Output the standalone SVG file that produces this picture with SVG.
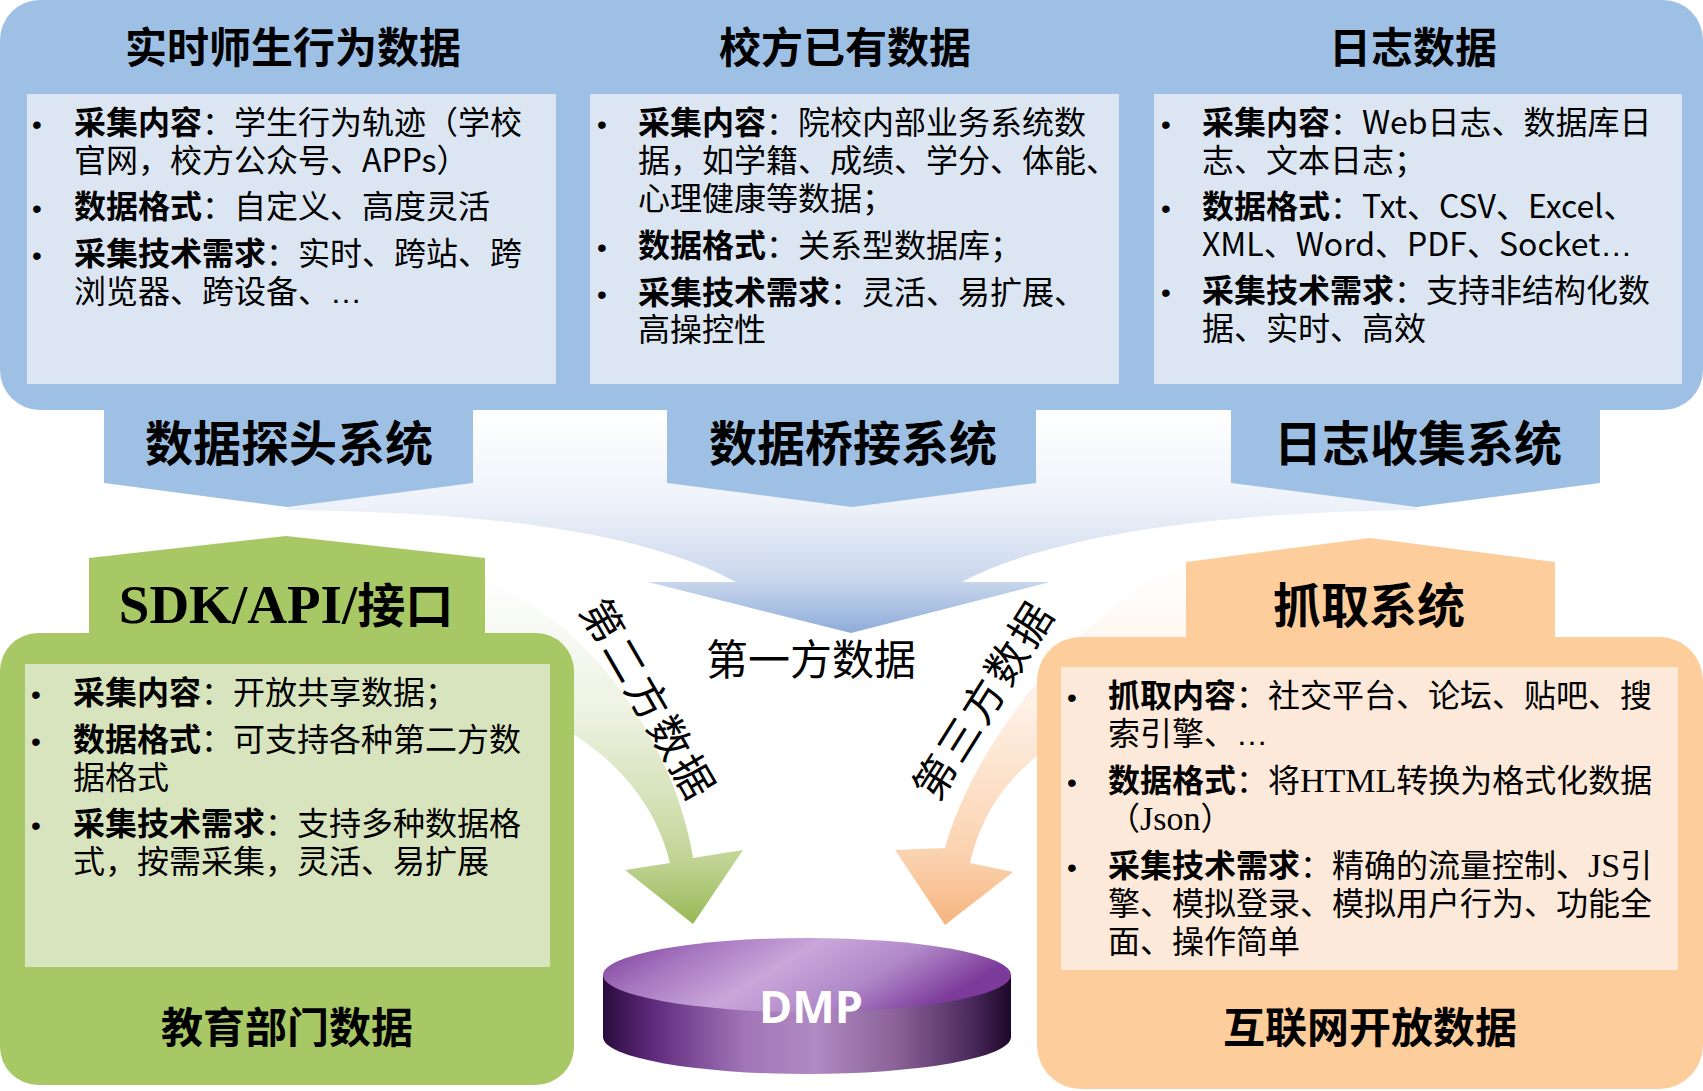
<svg xmlns="http://www.w3.org/2000/svg" width="1703" height="1091" viewBox="0 0 1703 1091">
<defs>
<style>
.title{font-family:"Noto Sans CJK SC","Noto Sans",sans-serif;font-weight:700;font-size:42px;fill:#000;text-anchor:middle}
.sys{font-family:"Noto Sans CJK SC","Noto Sans",sans-serif;font-weight:700;font-size:48px;fill:#000;text-anchor:middle}
.body{font-family:"Noto Sans CJK SC","Noto Sans",sans-serif;font-size:32px;fill:#000}
.b{font-weight:700}
.dot{font-family:"Liberation Sans",sans-serif;font-size:28px;fill:#000}
.serif{font-family:"Liberation Serif","Noto Sans CJK SC",serif}
.lat{font-family:"Liberation Sans",sans-serif}
.flow{font-family:"Noto Sans CJK SC","Noto Sans",sans-serif;font-size:42px;fill:#000;text-anchor:middle}
.blue{fill:#9fc0e5}
.bluepanel{fill:#dce6f2}
.green{fill:#a8c866}
.greenpanel{fill:#d8e4bd}
.orange{fill:#fdcd9c}
.orangepanel{fill:#fde9da}
</style>
<linearGradient id="gFunnel" gradientUnits="userSpaceOnUse" x1="0" y1="410" x2="0" y2="633">
<stop offset="0" stop-color="#ffffff"/>
<stop offset="0.44" stop-color="#edf1f9"/>
<stop offset="0.77" stop-color="#c8d6ec"/>
<stop offset="1" stop-color="#8eacd9"/>
</linearGradient>
<linearGradient id="gGreen" gradientUnits="userSpaceOnUse" x1="0" y1="570" x2="0" y2="924">
<stop offset="0" stop-color="#ffffff"/>
<stop offset="0.4" stop-color="#edf2e2"/>
<stop offset="0.65" stop-color="#d5e2b9"/>
<stop offset="0.82" stop-color="#c0d494"/>
<stop offset="1" stop-color="#98b856"/>
</linearGradient>
<linearGradient id="gOrange" gradientUnits="userSpaceOnUse" x1="0" y1="560" x2="0" y2="925">
<stop offset="0" stop-color="#ffffff"/>
<stop offset="0.4" stop-color="#fdf0e5"/>
<stop offset="0.65" stop-color="#fcdec4"/>
<stop offset="0.82" stop-color="#fad1ad"/>
<stop offset="1" stop-color="#f7b47e"/>
</linearGradient>
<linearGradient id="gTop" x1="0" y1="0" x2="1" y2="0.3">
<stop offset="0" stop-color="#7a3897"/>
<stop offset="0.25" stop-color="#a676bf"/>
<stop offset="0.5" stop-color="#c9a6da"/>
<stop offset="0.75" stop-color="#b088c8"/>
<stop offset="1" stop-color="#7c3a9a"/>
</linearGradient>
<linearGradient id="gSide" x1="0" y1="0" x2="1" y2="0">
<stop offset="0" stop-color="#2a0b3c"/>
<stop offset="0.12" stop-color="#5e2a7c"/>
<stop offset="0.35" stop-color="#a276b8"/>
<stop offset="0.52" stop-color="#b08ac2"/>
<stop offset="0.72" stop-color="#8a6298"/>
<stop offset="0.9" stop-color="#4c2a5e"/>
<stop offset="1" stop-color="#1c0828"/>
</linearGradient>
</defs>

<rect width="1703" height="1091" fill="#ffffff"/>

<g id="connectors">
<path id="flow-first" d="M 288 410 L 1417 410 L 1417 510 C 1240 512 1060 530 962 582 L 1050 582 L 851 633 L 648 582 L 736 582 C 640 530 480 512 288 510 Z" fill="url(#gFunnel)"/>
<path id="flow-second" d="M 430 560 L 485 580 C 590 620 675 745 693 858 L 743 850 L 693 924 L 625 870 L 670 863 C 655 800 610 750 540 715 L 430 660 Z" fill="url(#gGreen)"/>
<path id="flow-third" d="M 1230 600 L 1187 562 C 1080 610 975 740 945 848 L 895 850 L 945 925 L 1013 872 L 970 863 C 985 800 1020 760 1090 720 L 1230 660 Z" fill="url(#gOrange)"/>
<text class="flow" x="811" y="675">第一方数据</text>
<text class="flow" transform="translate(648,700) rotate(60)" x="0" y="15" letter-spacing="3">第二方数据</text>
<text class="flow" transform="translate(984,700) rotate(-58)" x="0" y="15" letter-spacing="3">第三方数据</text>
</g>

<g id="top-container">
<rect x="0" y="0" width="1703" height="410" rx="40" class="blue"/>
</g>

<g id="node-realtime">
<text class="title" x="293" y="63">实时师生行为数据</text>
<rect x="27" y="94" width="529" height="290" class="bluepanel"/>
<text class="dot" x="32" y="134">•</text>
<text class="dot" x="32" y="218">•</text>
<text class="dot" x="32" y="265">•</text>
<text class="body" x="74" y="134"><tspan class="b">采集内容</tspan>：学生行为轨迹（学校</text>
<text class="body" x="74" y="172">官网，校方公众号、APPs）</text>
<text class="body" x="74" y="218"><tspan class="b">数据格式</tspan>：自定义、高度灵活</text>
<text class="body" x="74" y="265"><tspan class="b">采集技术需求</tspan>：实时、跨站、跨</text>
<text class="body" x="74" y="303">浏览器、跨设备、<tspan class="lat">…</tspan></text>
</g>

<g id="node-school">
<text class="title" x="845" y="63">校方已有数据</text>
<rect x="590" y="94" width="529" height="290" class="bluepanel"/>
<text class="dot" x="597" y="134">•</text>
<text class="dot" x="597" y="257">•</text>
<text class="dot" x="597" y="304">•</text>
<text class="body" x="638" y="134"><tspan class="b">采集内容</tspan>：院校内部业务系统数</text>
<text class="body" x="638" y="172">据，如学籍、成绩、学分、体能、</text>
<text class="body" x="638" y="210">心理健康等数据；</text>
<text class="body" x="638" y="257"><tspan class="b">数据格式</tspan>：关系型数据库；</text>
<text class="body" x="638" y="304"><tspan class="b">采集技术需求</tspan>：灵活、易扩展、</text>
<text class="body" x="638" y="341">高操控性</text>
</g>

<g id="node-log">
<text class="title" x="1413" y="63">日志数据</text>
<rect x="1154" y="94" width="528" height="290" class="bluepanel"/>
<text class="dot" x="1161" y="134">•</text>
<text class="dot" x="1161" y="218">•</text>
<text class="dot" x="1161" y="302">•</text>
<text class="body" x="1202" y="134"><tspan class="b">采集内容</tspan>：Web日志、数据库日</text>
<text class="body" x="1202" y="172">志、文本日志；</text>
<text class="body" x="1202" y="218"><tspan class="b">数据格式</tspan>：Txt、CSV、Excel、</text>
<text class="body" x="1202" y="256">XML、Word、PDF、Socket<tspan class="lat">…</tspan></text>
<text class="body" x="1202" y="302"><tspan class="b">采集技术需求</tspan>：支持非结构化数</text>
<text class="body" x="1202" y="340">据、实时、高效</text>
</g>

<g id="node-probe">
<path d="M 104 405 L 104 483 L 287 507 L 473 483 L 473 405 Z" class="blue"/>
<text class="sys" x="289" y="461">数据探头系统</text>
</g>
<g id="node-bridge">
<path d="M 667 405 L 667 483 L 852 507 L 1036 483 L 1036 405 Z" class="blue"/>
<text class="sys" x="853" y="461">数据桥接系统</text>
</g>
<g id="node-logcollect">
<path d="M 1231 405 L 1231 483 L 1417 507 L 1600 483 L 1600 405 Z" class="blue"/>
<text class="sys" x="1418" y="461">日志收集系统</text>
</g>

<g id="node-sdk">
<path d="M 89 640 L 89 558 L 286 536 L 485 558 L 485 640 Z" class="green"/>
<text x="286" y="623" text-anchor="middle" font-family="Liberation Serif, Noto Sans CJK SC, serif" font-weight="700" font-size="55" fill="#000">SDK/API/<tspan font-family="Noto Sans CJK SC, sans-serif" font-size="48">接口</tspan></text>
</g>

<g id="node-edu">
<rect x="0" y="633" width="574" height="452" rx="38" class="green"/>
<rect x="25" y="664" width="525" height="303" class="greenpanel"/>
<text class="dot" x="31" y="704">•</text>
<text class="dot" x="31" y="751">•</text>
<text class="dot" x="31" y="835">•</text>
<text class="body" x="73" y="704"><tspan class="b">采集内容</tspan>：开放共享数据；</text>
<text class="body" x="73" y="751"><tspan class="b">数据格式</tspan>：可支持各种第二方数</text>
<text class="body" x="73" y="789">据格式</text>
<text class="body" x="73" y="835"><tspan class="b">采集技术需求</tspan>：支持多种数据格</text>
<text class="body" x="73" y="873">式，按需采集，灵活、易扩展</text>
<text class="title" x="287" y="1043">教育部门数据</text>
</g>

<g id="node-crawl">
<path d="M 1186 645 L 1186 562 L 1370 538 L 1555 562 L 1555 645 Z" class="orange"/>
<text class="sys" x="1369" y="623" font-size="46">抓取系统</text>
</g>

<g id="node-internet">
<rect x="1037" y="637" width="666" height="452" rx="44" class="orange"/>
<rect x="1061" y="667" width="617" height="303" class="orangepanel"/>
<text class="dot" x="1067" y="707">•</text>
<text class="dot" x="1067" y="792">•</text>
<text class="dot" x="1067" y="877">•</text>
<text class="body" x="1108" y="707"><tspan class="b">抓取内容</tspan>：社交平台、论坛、贴吧、搜</text>
<text class="body" x="1108" y="745">索引擎、<tspan class="lat">…</tspan></text>
<text class="body" x="1108" y="792"><tspan class="b">数据格式</tspan>：将<tspan class="serif" font-size="34">HTML</tspan>转换为格式化数据</text>
<text class="body" x="1108" y="830">（<tspan class="serif" font-size="34">Json</tspan>）</text>
<text class="body" x="1108" y="877"><tspan class="b">采集技术需求</tspan>：精确的流量控制、<tspan class="serif" font-size="34">JS</tspan>引</text>
<text class="body" x="1108" y="915">擎、模拟登录、模拟用户行为、功能全</text>
<text class="body" x="1108" y="953">面、操作简单</text>
<text class="title" x="1370" y="1043">互联网开放数据</text>
</g>

<g id="node-dmp">
<path d="M 603 975 L 603 1037 A 204 37 0 0 0 1011 1037 L 1011 975 Z" fill="url(#gSide)"/>
<ellipse cx="807" cy="975" rx="204" ry="37" fill="url(#gTop)"/>
<text x="811" y="1023" text-anchor="middle" font-family="Open Sans, Noto Sans, sans-serif" font-weight="700" font-size="45" fill="#ffffff">DMP</text>
</g>
</svg>
